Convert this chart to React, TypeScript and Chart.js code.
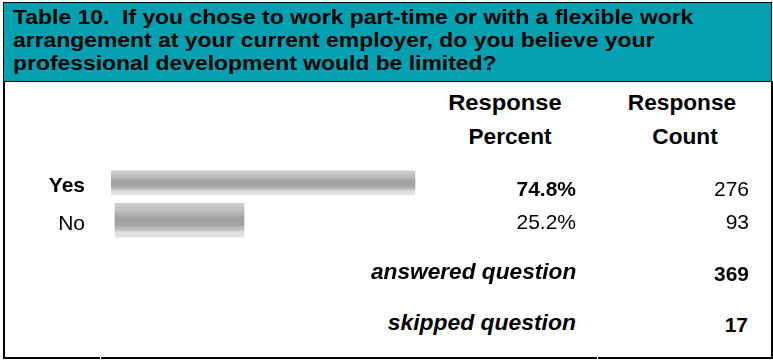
import React, { useEffect, useRef } from 'react';
import { Chart, registerables } from 'chart.js';

Chart.register(...registerables);

// ---------- data ----------
const titleLines = [
  'Table 10.  If you chose to work part-time or with a flexible work',
  'arrangement at your current employer, do you believe your',
  'professional development would be limited?',
];
const headerPercent = ['Response', 'Percent'];
const headerCount = ['Response', 'Count'];
const categories = ['Yes', 'No'];
const percents = [74.8, 25.2];
const counts = [276, 93];
const answeredLabel = 'answered question';
const answered = 369;
const skippedLabel = 'skipped question';
const skipped = 17;

// ---------- styling ----------
const FONT = '"Liberation Sans", Arial, Helvetica, sans-serif';
const TEAL = '#03A0B1';
const W = 773;
const H = 360;
const BAR_THICK = [24, 34];
const PLOT_TOP = 164; // page y of plot area top
const PLOT_H = 75;
const PAD_V = 40;

const GRAD_STOPS: [number, string][] = [
  [0.0, '#cfcfcf'],
  [0.22, '#bebebe'],
  [0.45, '#a0a0a0'],
  [0.62, '#a2a2a2'],
  [0.8, '#c6c6c6'],
  [0.84, '#dedede'],
  [1.0, '#e2e2e2'],
];

type TProps = {
  x: number;
  cy: number;
  align?: 'left' | 'right' | 'center';
  size?: number;
  weight?: string;
  italic?: boolean;
  sx?: number;
  children: React.ReactNode;
};

function T({ x, cy, align = 'left', size = 21, weight = 'normal', italic = false, sx = 1, children }: TProps) {
  const style: any = {
    position: 'absolute',
    top: cy - 0.49 * size,
    fontFamily: FONT,
    fontSize: size,
    lineHeight: `${size}px`,
    fontWeight: weight,
    fontStyle: italic ? 'italic' : 'normal',
    whiteSpace: 'pre',
    color: '#000',
  };
  if (align === 'left') {
    style.left = x;
    style.transform = `scaleX(${sx})`;
    style.transformOrigin = 'left top';
  } else if (align === 'right') {
    style.right = W - x;
    style.transform = `scaleX(${sx})`;
    style.transformOrigin = 'right top';
  } else {
    style.left = x;
    style.transform = `translateX(-50%) scaleX(${sx})`;
  }
  return <div style={style}>{children}</div>;
}

function BarChart() {
  const ref = useRef<HTMLCanvasElement>(null);
  useEffect(() => {
    if (!ref.current) return;
    const grad = (ctx: any) => {
      try {
        const chart = ctx.chart;
        if (!chart.chartArea || ctx.type !== 'data') return '#aaaaaa';
        const y = chart.scales.y;
        if (!y) return '#aaaaaa';
        const center = y.getPixelForValue(ctx.dataIndex);
        if (!isFinite(center)) return '#aaaaaa';
        const half = BAR_THICK[ctx.datasetIndex] / 2;
        const g = chart.ctx.createLinearGradient(0, center - half, 0, center + half);
        GRAD_STOPS.forEach(([o, c]) => g.addColorStop(o, c));
        return g;
      } catch (e) {
        return '#aaaaaa';
      }
    };
    const chart = new Chart(ref.current, {
      type: 'bar',
      data: {
        labels: categories,
        datasets: categories.map((c, k) => ({
          label: c,
          data: percents.map((v, i) => (i === k ? v : null)),
          xAxisID: k === 0 ? 'x' : 'x2',
          barThickness: BAR_THICK[k],
          grouped: false,
          borderWidth: 0,
          backgroundColor: grad,
        })) as any,
      },
      options: {
        indexAxis: 'y',
        animation: false,
        responsive: true,
        maintainAspectRatio: false,
        devicePixelRatio: 1,
        layout: { padding: { left: 0, right: 255.6, top: PAD_V, bottom: PAD_V } },
        plugins: {
          legend: { display: false },
          tooltip: { enabled: false },
          title: { display: false },
        },
        scales: {
          y: {
            type: 'category',
            position: 'left',
            grid: { display: false, drawTicks: false },
            border: { display: false },
            ticks: {
              color: '#000',
              padding: 26,
              labelOffset: 3.5,
              font: (c: any) => ({ family: FONT, size: 21, weight: c.index === 0 ? 'bold' : 'normal' }),
            },
            afterFit: (a: any) => {
              a.width = 111;
            },
          },
          x: { type: 'linear', position: 'bottom', min: 0, max: 100, display: false },
          x2: { type: 'linear', axis: 'x', position: 'bottom', min: -0.78, max: 78.6, display: false },
        } as any,
      },
    });
    return () => chart.destroy();
  }, []);
  return (
    <div style={{ position: 'absolute', left: 0, top: PLOT_TOP - PAD_V, width: W, height: PLOT_H + 2 * PAD_V }}>
      <canvas ref={ref} />
    </div>
  );
}

export default function App() {
  const rowCy = [188.5, 221.5];
  return (
    <div
      style={{
        position: 'absolute',
        left: 0,
        top: 0,
        width: W,
        height: H,
        background: '#fff',
        overflow: 'hidden',
      }}
    >
      {/* header band */}
      <div
        style={{
          position: 'absolute',
          left: 3,
          top: 2,
          width: 769,
          height: 80,
          boxSizing: 'border-box',
          border: '1px solid #000',
          background: TEAL,
        }}
      />
      {titleLines.map((t, i) => (
        <T key={i} x={13} cy={16.5 + i * 23} size={20} weight="bold" sx={1.145}>
          {t}
        </T>
      ))}
      {/* table borders */}
      <div style={{ position: 'absolute', left: 3, top: 81, width: 2, height: 278, background: '#000' }} />
      <div style={{ position: 'absolute', left: 771, top: 81, width: 2, height: 278, background: '#000' }} />
      <div style={{ position: 'absolute', left: 3, top: 357, width: 97, height: 2, background: '#000' }} />
      <div style={{ position: 'absolute', left: 101, top: 357, width: 496, height: 2, background: '#000' }} />
      <div style={{ position: 'absolute', left: 598, top: 357, width: 175, height: 2, background: '#000' }} />

      {/* column headers */}
      <T x={505} cy={102.5} align="center" size={22} weight="bold" sx={1.08}>{headerPercent[0]}</T>
      <T x={509.5} cy={137} align="center" size={22} weight="bold" sx={1.03}>{headerPercent[1]}</T>
      <T x={682} cy={102.5} align="center" size={22} weight="bold" sx={1.03}>{headerCount[0]}</T>
      <T x={685} cy={137} align="center" size={22} weight="bold" sx={1.03}>{headerCount[1]}</T>

      <BarChart />

      {percents.map((p, i) => (
        <T key={'p' + i} x={576} cy={rowCy[i]} align="right" size={21} weight={i === 0 ? 'bold' : 'normal'}>
          {p.toFixed(1) + '%'}
        </T>
      ))}
      {counts.map((c, i) => (
        <T key={'c' + i} x={749} cy={rowCy[i]} align="right" size={21}>
          {String(c)}
        </T>
      ))}

      <T x={576} cy={272} align="right" size={22} weight="bold" italic sx={1.03}>{answeredLabel}</T>
      <T x={749} cy={273.5} align="right" size={21} weight="bold">{String(answered)}</T>
      <T x={576} cy={322.5} align="right" size={22} weight="bold" italic sx={1.04}>{skippedLabel}</T>
      <T x={748} cy={324.5} align="right" size={21} weight="bold">{String(skipped)}</T>
    </div>
  );
}
